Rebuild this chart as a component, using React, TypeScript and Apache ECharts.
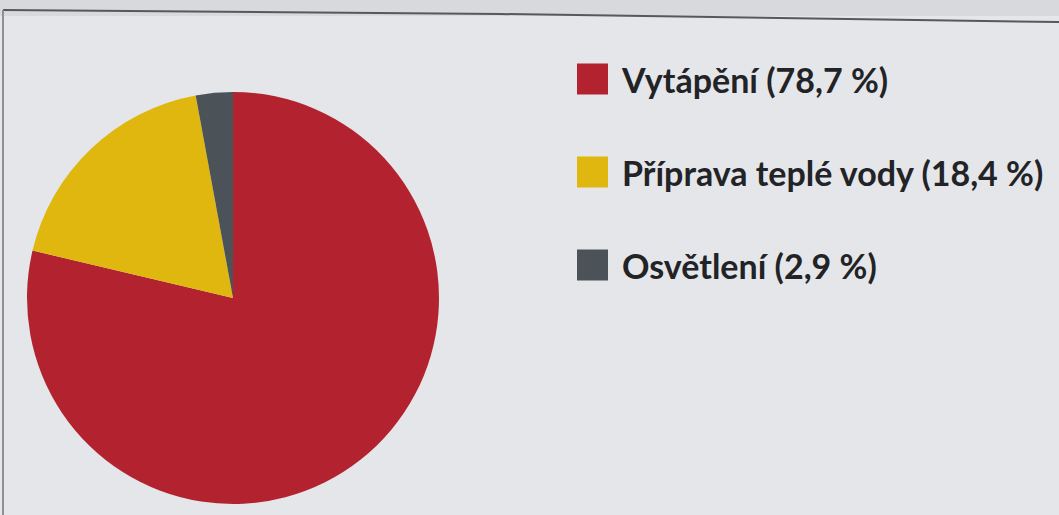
import React, { useEffect, useRef } from "react";
import * as echarts from "echarts";

const categories = ["Vytápění", "Příprava teplé vody", "Osvětlení"];
const shares = [78.7, 18.4, 2.9];
const colors = ["#b3232f", "#e0b70e", "#4b5358"];

export default function App() {
  const ref = useRef<HTMLDivElement>(null);
  useEffect(() => {
    const chart = echarts.init(ref.current!, null, { renderer: "svg" });
    const data = categories.map((c, i) => ({ name: c, value: shares[i], itemStyle: { color: colors[i] } }));
    chart.setOption({
      animation: false,
      backgroundColor: "#e5e6e9",
      graphic: [
        { type: "rect", shape: { x: 0, y: 0, width: 1059, height: 16 }, style: { fill: "#d7d9dd" }, silent: true },
        { type: "polyline", shape: { points: [[3, 10], [500, 14], [1059, 22]] }, style: { stroke: "#55585c", lineWidth: 2, fill: "none" } },
        { type: "line", shape: { x1: 3, y1: 10, x2: 3, y2: 515 }, style: { stroke: "#8d9094", lineWidth: 2 } },
      ],
      legend: {
        orient: "vertical",
        left: 572,
        top: 57,
        itemWidth: 31,
        itemHeight: 31,
        itemGap: 59,
        icon: "rect",
        formatter: (name: string) => {
          const i = categories.indexOf(name);
          return `${name} (${shares[i].toFixed(1).replace(".", ",")} %)`;
        },
        textStyle: { fontFamily: "Lato", fontWeight: "bold", fontSize: 34, lineHeight: 34, color: "#222326", padding: [0, 0, 0, 9] },
      },
      series: [
        {
          type: "pie",
          center: [233, 298],
          radius: 206,
          startAngle: 90,
          clockwise: true,
          label: { show: false },
          labelLine: { show: false },
          data,
        },
      ],
    });
    return () => chart.dispose();
  }, []);
  return <div ref={ref} style={{ position: "fixed", left: 0, top: 0, width: 1059, height: 515 }} />;
}
